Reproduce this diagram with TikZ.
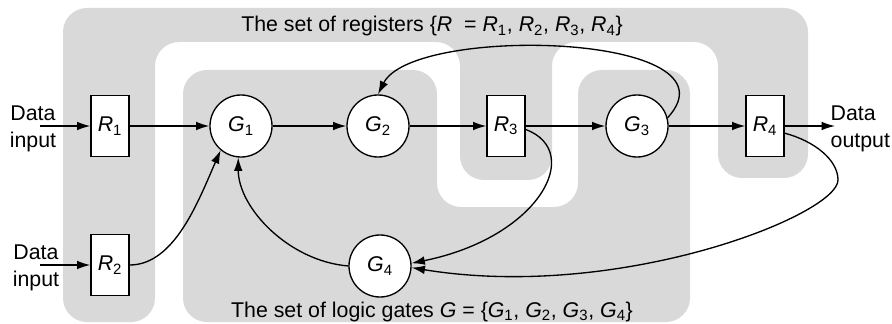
\documentclass[tikz,border=0pt]{standalone}
\usepackage{fontspec}
\setmainfont{Liberation Sans}
\usetikzlibrary{arrows.meta}

\definecolor{setgray}{RGB}{217,217,217}
\newcommand{\elem}[2]{\textit{#1}\textsubscript{#2}}

\tikzset{every picture/.style={line width=1pt}}
\tikzset{
  regbox/.style={draw, fill=white, rectangle, minimum width=28.5pt, minimum height=45.75pt, inner sep=0pt},
  gatecirc/.style={draw, fill=white, circle, minimum size=46.5pt, inner sep=0pt},
  flow/.style={-{Latex[length=10pt,width=6.5pt]}},
  setregion/.style={fill=setgray, rounded corners=18pt},
}

\begin{document}
\begin{tikzpicture}[x=0.75pt,y=0.75pt,yscale=-1,xscale=1,font=\fontsize{16}{20}\selectfont]
\useasboundingbox (0,0) rectangle (892,324);

%Shape: set of registers
\fill[setregion] (109,322) -- (63,322) -- (63,8) -- (808,8) -- (808,178) -- (718,178) -- (718,42) -- (552,42) -- (552,180) -- (460,180) -- (460,42) -- (155,42) -- (155,322) -- cycle;
%Shape: set of logic gates
\fill[setregion] (400,322) -- (183,322) -- (183,70) -- (437,70) -- (437,207) -- (578,207) -- (578,70) -- (690,70) -- (690,322) -- cycle;

%Registers
\node[regbox] (R1) at (110,126) {\elem{R}{1}};
\node[regbox] (R2) at (110,265) {\elem{R}{2}};
\node[regbox] (R3) at (506,126) {\elem{R}{3}};
\node[regbox] (R4) at (765,126) {\elem{R}{4}};
%Logic gates
\node[gatecirc] (G1) at (241,126) {\elem{G}{1}};
\node[gatecirc] (G2) at (378,126) {\elem{G}{2}};
\node[gatecirc] (G3) at (637,126) {\elem{G}{3}};
\node[gatecirc] (G4) at (380,266) {\elem{G}{4}};

% Text Node
\node[align=center, inner sep=0pt] (in1) at (33,129) {Data\\input};
% Text Node
\node[align=center, inner sep=0pt] (in2) at (36,268) {Data\\input};
% Text Node
\node[align=left, anchor=west, inner sep=0pt] (out) at (830,129) {Data\\output};
% Text Node
\node[anchor=base, inner sep=0pt] (regset) at (432,32) {The set of registers \{\textit{R}\ \ = \elem{R}{1}, \elem{R}{2}, \elem{R}{3}, \elem{R}{4}\}};
% Text Node
\node[anchor=base, inner sep=0pt] (gateset) at (432,317) {The set of logic gates \textit{G} = \{\elem{G}{1}, \elem{G}{2}, \elem{G}{3}, \elem{G}{4}\}};

\coordinate (in1e) at (40,126);
\coordinate (in2e) at (40,265);
\coordinate (oute) at (835,126);

%Straight Lines
\draw[flow] (in1e) -- (R1);
\draw[flow] (R1) -- (G1);
\draw[flow] (G1) -- (G2);
\draw[flow] (G2) -- (R3);
\draw[flow] (R3) -- (G3);
\draw[flow] (G3) -- (R4);
\draw[flow] (R4) -- (oute);
\draw[flow] (in2e) -- (R2);

%Curve Lines
\draw[flow] (R2.east) .. controls +(45,0) and +(-22,50) .. (G1.230);
%Curve Lines
\draw[flow] (G4.west) .. controls +(-60,-5) and +(0,50) .. (G1.265);
%Curve Lines
\draw[flow] (G3.15) .. controls +(78,-85) and +(35,-70) .. (G2.north);
%Curve Lines
\draw[flow] (R3.-10) .. controls +(59,22) and +(128,-26) .. (G4.5);
%Curve Lines
\draw[flow] (R4.-20) .. controls +(30,8) and +(0,-20) .. (838,180) .. controls +(0,35) and +(208,34) .. (G4.-3);

\end{tikzpicture}
\end{document}
